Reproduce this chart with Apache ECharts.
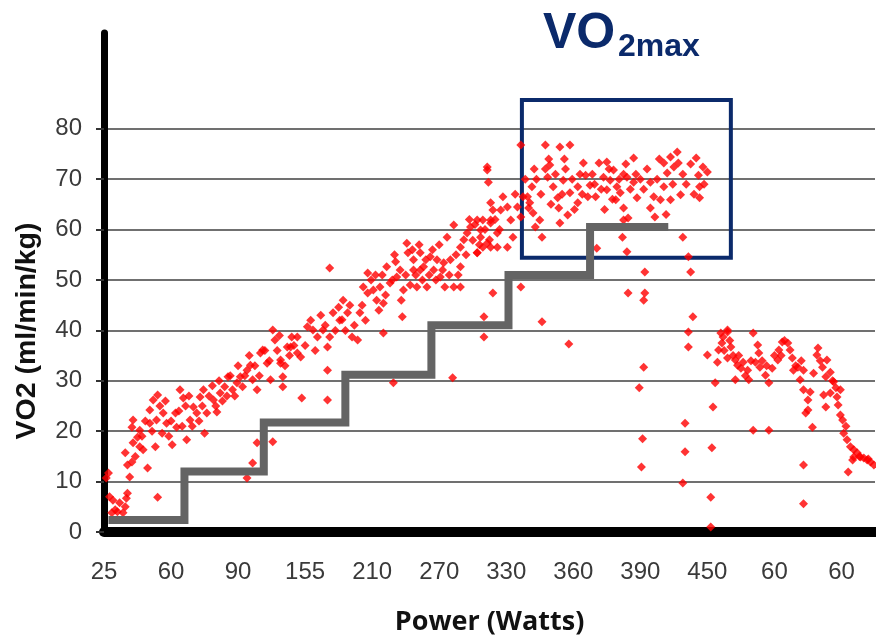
<!DOCTYPE html>
<html>
<head>
<meta charset="utf-8">
<script src="https://cdn.jsdelivr.net/npm/echarts@6/dist/echarts.min.js"></script>
<style>html,body{margin:0;padding:0;background:#fff}#c{width:876px;height:639px}</style>
</head>
<body>
<div id="c"></div>
<script>
// x tick labels (Power, Watts) placed every 60 samples
const xTickLabels = ['25','60','90','155','210','270','330','360','390','450','60','60'];
const xTickValues = [0,60,120,180,240,300,360,420,480,540,600,660];
const yTickValues = [0,10,20,30,40,50,60,70,80];

// workload steps (gray staircase)
const stepX = [4,72,143,216,293,362,435,505];
const stepY = [2.4,12,21.7,31.2,41,51,60.5,60.5];

// VO2max box
const boxX = [374,561];
const boxY = [54.4,85.7];

// VO2 samples: ramp phase
const rampPoints = [
[4,11.7],[5,7.0],[10,4.4],[14,5.8],[19,5.0],[21,7.7],[17,3.8],[7,3.8],[2,10.7],[8,6.3],[12,4.0],[20,6.7],[23,10.9],[25,13.9],[21,13.3],[19,15.7],[26,17.7],[26,22.2],[25,20.8],[30,18.8],[32,20.2],[35,16.3],[39,12.7],[32,16.9],[41,24.2],[44,26.2],[48,27.2],[41,21.6],[47,22.2],[46,16.9],[48,6.9],[53,23.6],[56,21.6],[52,19.6],[61,17.3],[64,23.6],[68,28.2],[71,26.6],[65,20.8],[74,18.3],[77,22.2],[80,24.8],[86,26.8],[89,28.2],[90,19.6],[92,23.6],[83,23.6],[98,26.2],[101,23.8],[104,27.6],[108,28.8],[111,30.8],[115,28.2],[119,29.6],[122,30.8],[124,28.8],[128,32.1],[131,33.1],[133,30.2],[137,28.2],[140,35.5],[142,36.1],[146,33.5],[151,40.1],[153,38.1],[149,30.2],[158,34.1],[160,30.8],[164,36.7],[168,38.7],[173,35.5],[173,38.7],
[137,17.7],[133,13.7],[128,10.7],[151,17.9],
[28,15],[34,19],[37,22],[43,20],[50,25],[55,26],[58,19],[60,22],[67,24],[70,21],[73,25],[76,27],[79,21],[85,22],[88,25],[94,27],[97,29],[100,25],[103,30],[106,26],[110,27],[113,31],[117,27],[120,33],[126,31],[130,35],[135,33],[139,31],[144,36],[148,34],[155,36],[157,39],[162,33],[166,35],[170,37],
[158,33.5],[160,28.8],[167,36.7],[176,34.7],[182,40.7],[187,40.1],[191,38.7],[196,40.1],[200,36.7],[202,38.7],[205,43.5],[210,44.6],[214,46.0],[213,42.1],[218,43.5],[222,38.7],[227,38.1],[229,43.5],[232,48.6],[236,51.4],[236,47.4],[241,48.0],[244,46.0],[250,45.4],[247,48.6],[253,52.6],[256,49.4],[261,53.6],[262,50.6],[268,48.0],[271,57.3],[272,55.4],[277,54.0],[277,52.0],[283,55.4],[283,52.0],[286,52.6],[289,48.6],[280,48.6],[292,54.6],[295,52.0],[298,54.0],[301,50.6],[304,53.4],[305,48.6],[310,54.0],[313,48.6],[319,52.6],[319,48.6],[307,58.5],[313,60.9],[319,56.5],[325,59.3],[328,60.5],[330,57.9],[334,55.4],[337,59.9],[339,61.9],[343,57.3],[346,61.3],[348,63.9],[352,56.5],[346,65.3],[344,69.4],[343,71.8],
[202,52.4],[267,42.7],[250,39.5],[200,32.1],[177,26.6],[200,26.2],[259,29.6],[312,30.6],[340,42.7],[340,38.7],[348,47.4],
[180,37],[185,42],[189,36],[194,43],[198,41],[207,40],[211,42],[216,40],[220,45],[224,41],[231,45],[234,42],[239,50],[243,51],[246,44],[249,51],[252,47],[258,50],[260,55],[265,52],[266,46],[270,51],[274,49],[276,56],[279,51],[282,57],[285,50],[288,54],[291,51],[294,56],[297,50],[300,57],[303,52],[309,51],[315,55],[317,51],[322,58],[324,55],[327,62],[332,61],[336,57],[341,60],[345,58],[350,62],[354,60]
];

// VO2 samples: plateau phase
const plateauPoints = [
[343,72.4],[373,76.8],[395,76.8],[408,76.4],[417,76.8],[399,72.8],[397,70.4],[383,68.5],[379,66.5],[380,64.3],[384,63.3],[390,61.9],[392,58.5],[386,60.5],[402,68.5],[406,66.3],[411,69.8],[407,64.3],[415,62.9],[408,61.3],[417,67.3],[424,68.5],[424,65.3],[429,73.2],[431,70.8],[435,68.8],[433,66.5],[440,66.5],[443,73.2],[450,73.4],[447,70.4],[453,69.8],[450,67.9],[456,71.8],[459,68.5],[462,67.3],[458,65.9],[465,71.0],[468,70.4],[474,74.2],[474,69.4],[477,66.3],[465,64.3],[469,62.3],[489,69.4],[492,66.5],[489,64.3],[493,62.5],[498,65.9],[501,68.5],[504,71.2],[501,73.2],[507,74.4],[513,75.4],[510,72.4],[514,73.2],[507,65.9],[516,66.9],[530,74.2],[532,70.8],[533,68.5],[533,66.3],[536,72.4],[540,71.4],
[334,61.9],[337,58.5],[346,61.9],[346,56.5],[352,59.3],[355,63.9],[357,66.5],[361,64.5],[364,61.9],[366,58.5],[370,64.5],[373,62.5],[375,66.5],[381,65.3],[361,56.5],[339,56.5],[334,55.4],
[464,58.5],[465,61.9],[468,55.6],[441,56.3],[518,58.5],[523,54.6],[525,51.6],[484,51.6],[469,47.4],[484,47.4],[373,48.6],
[387,70],[391,67],[395,72],[400,65],[404,71],[410,67],[413,72],[419,70],[421,64],[426,71],[428,67],[437,71],[439,69],[445,68],[448,64],[452,72],[455,66],[461,70],[467,73],[471,68],[476,71],[480,70],[483,68],[486,72],[495,70],[497,74],[503,63],[509,69],[518,71],[521,69],[525,73],[528,67],[537,69],[398,74],[412,74],[385,72],[377,70],[368,67]
];

// VO2 samples: drop and recovery phase
const recoveryPoints = [
[483,46.0],[392,41.7],[416,37.3],[483,32.7],[479,28.6],[482,18.5],[481,12.9],
[527,42.7],[523,39.7],[523,36.7],[520,21.6],[520,15.9],[518,9.7],[540,35.1],[547,29.6],[545,24.8],[544,16.7],[543,6.9],[543,1.0],
[552,39.5],[554,38.7],[558,39.7],[553,37.5],[561,36.7],[550,36.1],[549,33.7],[558,34.5],[565,34.1],[567,33.1],[570,32.5],[572,33.7],[576,32.1],[565,30.2],[577,30.2],[581,39.5],[585,37.1],[586,35.5],[583,33.7],[587,32.7],[592,31.1],[595,29.6],[598,32.5],[603,34.1],[604,36.1],[607,37.7],[612,37.5],[614,36.1],[616,34.5],[617,32.1],[621,32.7],[623,30.2],[626,32.1],[626,28.2],[630,26.2],[630,24.2],[628,23.6],[634,20.8],[632,27.8],[635,31.5],[638,35.1],[639,36.5],[643,32.7],[647,34.1],[646,30.8],[650,31.7],[653,29.8],[644,27.2],[646,24.8],[650,27.6],[655,28.6],[656,26.8],[659,28.2],[657,25.2],[659,23.2],[661,22.2],[662,19.6],[665,18.3],[668,16.9],[671,16.3],[674,15.7],[677,14.9],[680,14.7],[683,14.3],[686,13.9],[689,13.3],[670,14.3],[666,11.9],[671,14.9],[626,13.3],[626,5.6],[595,20.2],[581,20.2],[558,40.1],
[555,36],[560,38],[563,35],[568,35],[574,31],[579,34],[589,34],[593,33],[600,35],[606,35],[609,38],[619,33],[624,34],[641,34],[652,30],[664,21],[676,15],[684,14.5]
];

const chart = echarts.init(document.getElementById('c'), null, {renderer:'canvas'});
const tickFont = {fontFamily:'Liberation Sans', fontSize:24, color:'#3a3a3a'};
const scatterStyle = {type:'scatter', symbol:'diamond', symbolSize:9, itemStyle:{color:'#ff0000'}, z:3, silent:true};

chart.setOption({
  animation:false,
  backgroundColor:'#ffffff',
  title:[
    {text:'VO', left:538, top:4, textStyle:{fontFamily:'Liberation Sans', fontWeight:'bold', fontSize:50, color:'#0b2a6b'}},
    {text:'2max', left:613, top:26, textStyle:{fontFamily:'Liberation Sans', fontWeight:'bold', fontSize:32, color:'#0b2a6b'}}
  ],
  graphic:[
    {type:'text', x:27, y:331, rotation:Math.PI/2, silent:true,
     style:{text:'VO2 (ml/min/kg)', fontFamily:'Liberation Sans', fontWeight:'bold', fontSize:28.5, fill:'#111', align:'center', verticalAlign:'middle'}}
  ],
  grid:{left:104, right:1, top:33, bottom:107, containLabel:false, outerBoundsMode:'none'},
  xAxis:{
    type:'value', min:0, max:690, interval:60, offset:3,
    name:'Power (Watts)', nameLocation:'middle', nameGap:74,
    nameTextStyle:{fontFamily:'Open Sans', fontWeight:'bold', fontSize:27, color:'#111'},
    axisLine:{show:true, lineStyle:{color:'#000', width:10}},
    axisTick:{show:false},
    splitLine:{show:false},
    axisLabel:Object.assign({margin:25, customValues:xTickValues,
      formatter:function(v){ return xTickLabels[Math.round(v/60)] || ''; }}, tickFont)
  },
  yAxis:{
    type:'value', min:0, max:99, interval:10,
    axisLine:{show:true, lineStyle:{color:'#000', width:7}},
    axisTick:{show:true, length:8, customValues:yTickValues, lineStyle:{color:'#333', width:2}},
    axisLabel:Object.assign({margin:22, customValues:yTickValues}, tickFont),
    splitLine:{show:true, lineStyle:{color:'#404040', width:1.6}}
  },
  series:[
    Object.assign({name:'ramp', data:rampPoints}, scatterStyle),
    Object.assign({name:'plateau', data:plateauPoints}, scatterStyle),
    Object.assign({name:'recovery', data:recoveryPoints}, scatterStyle),
    {
      name:'workload', type:'line', step:'end', showSymbol:false, symbol:'none', silent:true, z:4,
      data:stepX.map(function(x,i){return [x, stepY[i]];}),
      lineStyle:{color:'#646464', width:8, cap:'butt', join:'miter'},
      markArea:{silent:true, itemStyle:{color:'rgba(0,0,0,0)', borderColor:'#0b2a6b', borderWidth:4},
        data:[[{xAxis:boxX[0], yAxis:boxY[0]},{xAxis:boxX[1], yAxis:boxY[1]}]]}
    }
  ]
});
</script>
</body>
</html>
